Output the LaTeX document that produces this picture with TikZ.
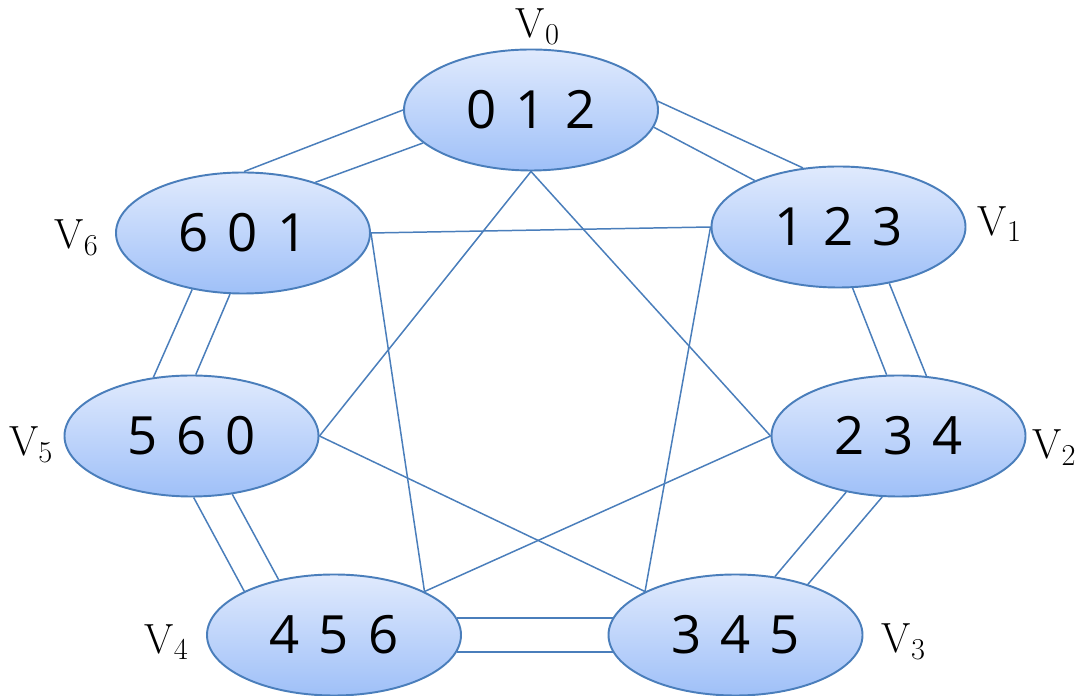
\documentclass[tikz,border=0pt]{standalone}
\usepackage{fontspec}
\usepackage{tikz}
\usetikzlibrary{shapes.geometric,positioning}
\newfontfamily\digitfont[WordSpace=1.4]{Open Sans}
\definecolor{EdgeBlue}{HTML}{4A7EBB}
\definecolor{TopBlue}{HTML}{E0EAFD}
\definecolor{BotBlue}{HTML}{9FC0F8}

\begin{document}
\begin{tikzpicture}[
  set/.style={ellipse,draw=EdgeBlue,line width=1.1pt,top color=TopBlue,bottom color=BotBlue,minimum width=5.08cm,minimum height=2.42cm,inner sep=0pt,font=\digitfont\fontsize{30}{36}\selectfont},
  vlab/.style={inner sep=0pt,font=\fontsize{24}{28}\selectfont},
  link/.style={draw=EdgeBlue,line width=.85pt},
  thick link/.style={draw=EdgeBlue,line width=1.3pt}
]
\useasboundingbox (0,0) rectangle (21.54,13.92);
\node[set] (v0) at (10.62,11.72) {0 1 2};
\node[set] (v1) at (16.77,9.38) {1 2 3};
\node[set] (v2) at (17.97,5.20) {2 3 4};
\node[set] (v3) at (14.71,1.22) {3 4 5};
\node[set] (v4) at (6.68,1.22) {4 5 6};
\node[set] (v5) at (3.83,5.20) {5 6 0};
\node[set] (v6) at (4.86,9.26) {6 0 1};
\node[vlab,above=.8mm of v0,xshift=1.4mm] (l0) {$\mathrm{V}_0$};
\node[vlab,right=2.2mm of v1,yshift=.06cm] (l1) {$\mathrm{V}_1$};
\node[vlab,right=1.1mm of v2,yshift=-.23cm] (l2) {$\mathrm{V}_2$};
\node[vlab,right=3.6mm of v3,yshift=-.13cm] (l3) {$\mathrm{V}_3$};
\node[vlab,left=3.4mm of v4,yshift=-.14cm] (l4) {$\mathrm{V}_4$};
\node[vlab,left=2mm of v5,yshift=-.17cm] (l5) {$\mathrm{V}_5$};
\node[vlab,left=3.2mm of v6,yshift=-.09cm] (l6) {$\mathrm{V}_6$};
% outer ring, two lines per pair
\draw[link] (v0.4) -- (v1.121);
\draw[link] (v0.352) -- (v1.151);
\draw[link] (v1.283) -- (v2.101);
\draw[link] (v1.312) -- (v2.65);
\draw[link] (v2.227) -- (v3.56);
\draw[link] (v2.255) -- (v3.35);
\draw[thick link] (v4.8) -- (v3.172);
\draw[thick link] (v4.352) -- (v3.188);
\draw[link] (v5.272) -- (v4.154);
\draw[link] (v5.305) -- (v4.135);
\draw[link] (v6.228) -- (v5.123);
\draw[link] (v6.258) -- (v5.86);
\draw[link] (v6.89) -- (v0.180);
\draw[link] (v6.35) -- (v0.197);
% chords
\draw[link] (v6.east) -- (v1.west);
\draw[link] (v6.east) -- (v4.north east);
\draw[link] (v0.south) -- (v5.east);
\draw[link] (v0.south) -- (v2.west);
\draw[link] (v1.west) -- (v3.north west);
\draw[link] (v5.east) -- (v3.north west);
\draw[link] (v2.west) -- (v4.north east);
\end{tikzpicture}
\end{document}
